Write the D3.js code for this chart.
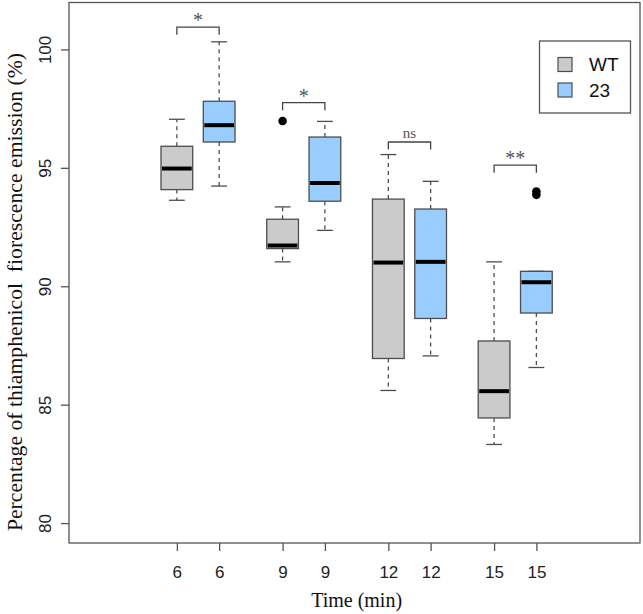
<!DOCTYPE html>
<html>
<head>
<meta charset="utf-8">
<script src="https://cdn.jsdelivr.net/npm/d3@7"></script>
<style>
  html, body { margin: 0; padding: 0; background: #fff; }
  svg { display: block; }
</style>
</head>
<body>
<svg id="chart" width="643" height="614"></svg>
<script>
// ---------- data ----------
const timeLabels = ["6", "9", "12", "15"];
const groups = ["WT", "23"];
// [lower whisker, Q1, median, Q3, upper whisker]
const wtStats = [
  [93.63, 94.08, 94.97, 95.91, 97.05],
  [91.03, 91.59, 91.72, 92.83, 93.35],
  [85.60, 86.95, 91.00, 93.68, 95.56],
  [83.32, 84.44, 85.57, 87.69, 91.03]
];
const mutStats = [
  [94.23, 96.09, 96.80, 97.81, 100.32],
  [92.36, 93.59, 94.36, 96.30, 96.96],
  [87.06, 88.64, 91.03, 93.26, 94.43],
  [86.57, 88.87, 90.17, 90.63, 90.63]
];
const wtOutliers = [[], [96.98], [], []];
const mutOutliers = [[], [], [], [94.0, 93.86]];
const signifLabels = ["*", "*", "ns", "**"];
const bracketLevels = [100.94, 97.75, 96.09, 95.11];
const yTicks = [80, 85, 90, 95, 100];

// ---------- layout ----------
const svg = d3.select("#chart");
const plot = { left: 69, right: 640, top: 2.5, bottom: 543 };
const x = d3.scaleLinear().domain([-1.55, 11.95]).range([plot.left, plot.right]);
const y = d3.scaleLinear().domain([79.16, 101.98]).range([plot.bottom, plot.top]);
const fills = ["#cbcbcb", "#99ccff"];
const edge = "#4d4d4d";
const boxW = 0.75;

const pos = (i, g) => 1 + i * 2.5 + g;

// frame
svg.append("rect")
  .attr("x", plot.left).attr("y", plot.top)
  .attr("width", plot.right - plot.left).attr("height", plot.bottom - plot.top)
  .attr("fill", "none").attr("stroke", "#555").attr("stroke-width", 1.3);

// y axis
const yAxis = d3.axisLeft(y).tickValues(yTicks).tickSize(8).tickSizeOuter(0).tickFormat(d3.format("d"));
const yg = svg.append("g").attr("transform", `translate(${plot.left},0)`).call(yAxis);
yg.select(".domain").remove();
yg.selectAll(".tick line").attr("stroke", "#555").attr("stroke-width", 1.3);
yg.selectAll(".tick text")
  .attr("x", null).attr("dy", null)
  .attr("transform", "translate(-24,0) rotate(-90)")
  .attr("text-anchor", "middle")
  .attr("dominant-baseline", "central")
  .attr("fill", "#222")
  .style("font-family", "Arial, 'Liberation Sans', sans-serif")
  .style("font-size", "17px");

// x axis
const allPos = [];
const allLabels = [];
timeLabels.forEach((t, i) => groups.forEach((g, j) => { allPos.push(pos(i, j)); allLabels.push(t); }));
const xAxis = d3.axisBottom(x).tickValues(allPos).tickSize(8).tickSizeOuter(0)
  .tickFormat((d, i) => allLabels[i]);
const xg = svg.append("g").attr("transform", `translate(0,${plot.bottom})`).call(xAxis);
xg.select(".domain").remove();
xg.selectAll(".tick line").attr("stroke", "#555").attr("stroke-width", 1.3);
xg.selectAll(".tick text")
  .attr("y", 29).attr("dy", null)
  .attr("dominant-baseline", "central")
  .attr("fill", "#222")
  .style("font-family", "Arial, 'Liberation Sans', sans-serif")
  .style("font-size", "17px");

// axis titles
svg.append("text")
  .attr("x", x(5.25)).attr("y", 607)
  .attr("text-anchor", "middle")
  .style("font-family", "'Liberation Serif', 'Times New Roman', serif")
  .style("font-size", "20px").attr("fill", "#111")
  .text("Time (min)");

svg.append("text")
  .attr("transform", "translate(22,292) rotate(-90)")
  .attr("text-anchor", "middle")
  .style("font-family", "'Liberation Serif', 'Times New Roman', serif")
  .style("font-size", "21.7px").attr("fill", "#111")
  .style("white-space", "pre")
  .text("Percentage of thiamphenicol  fiorescence emission (%)");

// boxes
const boxes = svg.append("g");
[wtStats, mutStats].forEach((stats, g) => {
  const outs = g === 0 ? wtOutliers : mutOutliers;
  stats.forEach((s, i) => {
    const c = pos(i, g);
    const [lo, q1, med, q3, hi] = s;
    const gg = boxes.append("g");
    gg.append("line").attr("x1", x(c)).attr("x2", x(c)).attr("y1", y(q3)).attr("y2", y(hi))
      .attr("stroke", edge).attr("stroke-width", 1.3).attr("stroke-dasharray", "4,4");
    gg.append("line").attr("x1", x(c)).attr("x2", x(c)).attr("y1", y(q1)).attr("y2", y(lo))
      .attr("stroke", edge).attr("stroke-width", 1.3).attr("stroke-dasharray", "4,4");
    [lo, hi].forEach(v => gg.append("line")
      .attr("x1", x(c - boxW / 4)).attr("x2", x(c + boxW / 4))
      .attr("y1", y(v)).attr("y2", y(v))
      .attr("stroke", edge).attr("stroke-width", 1.3));
    gg.append("rect")
      .attr("x", x(c - boxW / 2)).attr("width", x(c + boxW / 2) - x(c - boxW / 2))
      .attr("y", y(q3)).attr("height", y(q1) - y(q3))
      .attr("fill", fills[g]).attr("stroke", edge).attr("stroke-width", 1.3);
    gg.append("line")
      .attr("x1", x(c - boxW / 2) + 1).attr("x2", x(c + boxW / 2) - 1)
      .attr("y1", y(med)).attr("y2", y(med))
      .attr("stroke", "#000").attr("stroke-width", 4);
    outs[i].forEach(v => gg.append("circle")
      .attr("cx", x(c)).attr("cy", y(v)).attr("r", 4.3).attr("fill", "#000"));
  });
});

// significance brackets
const ann = svg.append("g");
signifLabels.forEach((lab, i) => {
  const x1 = x(pos(i, 0)), x2 = x(pos(i, 1)), yb = y(bracketLevels[i]);
  ann.append("path")
    .attr("d", `M${x1},${yb + 7.5}V${yb}H${x2}V${yb + 7.5}`)
    .attr("fill", "none").attr("stroke", "#444").attr("stroke-width", 1.3);
  ann.append("text")
    .attr("x", (x1 + x2) / 2).attr("y", yb - (lab === "ns" ? 4 : 0))
    .attr("text-anchor", "middle")
    .style("font-family", "'Liberation Serif', 'Times New Roman', serif")
    .style("font-size", lab === "ns" ? "15px" : "20px")
    .attr("fill", "#555")
    .text(lab);
});

// legend
const lg = svg.append("g");
lg.append("rect").attr("x", 539.5).attr("y", 41).attr("width", 91).attr("height", 72)
  .attr("fill", "#fff").attr("stroke", "#555").attr("stroke-width", 1.3);
groups.forEach((g, j) => {
  const cy = 64.5 + j * 25.5;
  lg.append("rect").attr("x", 558).attr("y", cy - 7).attr("width", 14).attr("height", 14)
    .attr("fill", fills[j]).attr("stroke", edge).attr("stroke-width", 1.2);
  lg.append("text").attr("x", 589).attr("y", cy)
    .attr("dominant-baseline", "central")
    .style("font-family", "Arial, 'Liberation Sans', sans-serif")
    .style("font-size", "19px").attr("fill", "#111")
    .text(g);
});
</script>
</body>
</html>
